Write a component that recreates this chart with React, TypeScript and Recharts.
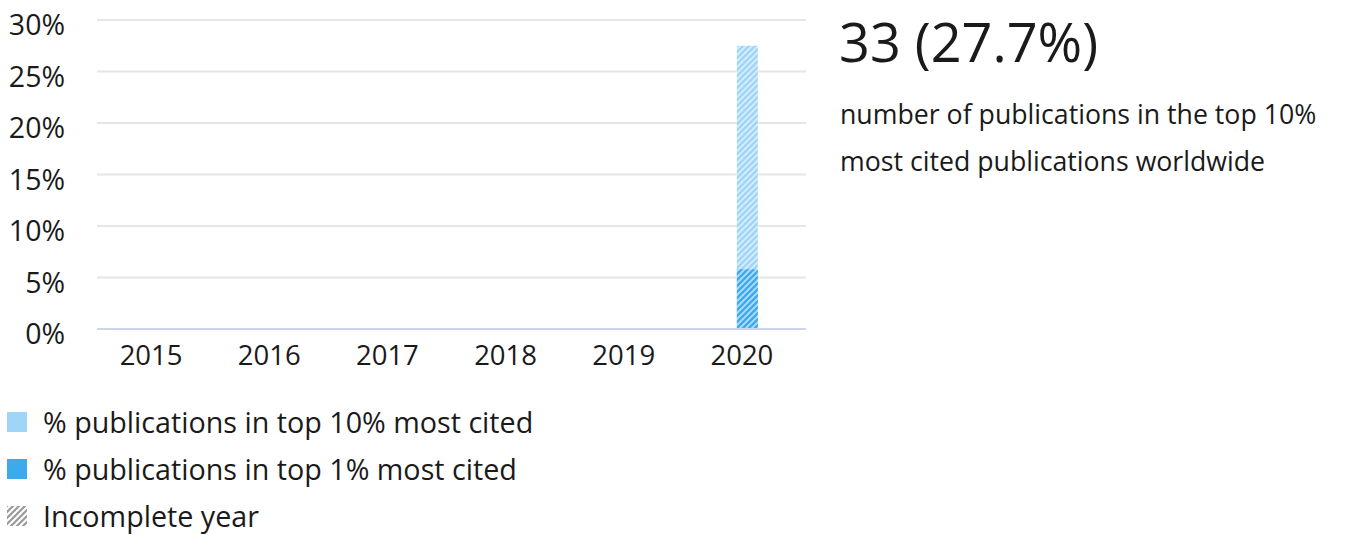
import React from 'react'
import { BarChart, Bar, XAxis, YAxis, CartesianGrid } from 'recharts'

const years = ['2015', '2016', '2017', '2018', '2019', '2020']
const top10 = [0, 0, 0, 0, 0, 27.5]
const top1 = [0, 0, 0, 0, 0, 5.8]
const yTicks = [0, 5, 10, 15, 20, 25, 30]

const chartData = years.map((year, i) => ({ year, top10: top10[i], top1: top1[i] }))

const FONT = '"Open Sans", "Noto Sans", sans-serif'
const LIGHT = '#9fd5f7'
const DARK = '#3eaaee'

document.body.style.margin = '0'

function Hatch({ id, color }: { id: string; color: string }) {
  return (
    <pattern id={id} patternUnits="userSpaceOnUse" width="6" height="6">
      <rect width="6" height="6" fill={color} />
      <path d="M0,6 L6,0 M-1.5,1.5 L1.5,-1.5 M4.5,7.5 L7.5,4.5" stroke="#fff" strokeWidth="1.8" strokeOpacity="0.6" />
    </pattern>
  )
}

export default function App() {
  return (
    <div style={{ position: 'relative', width: 1359, height: 535, fontFamily: FONT, color: '#1a1a1a', overflow: 'hidden' }}>
      <svg width="0" height="0" style={{ position: 'absolute' }}>
        <defs>
          <Hatch id="hatchLight" color={LIGHT} />
          <Hatch id="hatchDark" color={DARK} />
          <pattern id="hatchGray" patternUnits="userSpaceOnUse" width="6" height="6">
            <rect width="6" height="6" fill="#fff" />
            <path d="M0,6 L6,0 M-1.5,1.5 L1.5,-1.5 M4.5,7.5 L7.5,4.5" stroke="#9a9a9a" strokeWidth="2.2" />
          </pattern>
        </defs>
      </svg>

      <div style={{ position: 'absolute', left: 0, top: 0 }}>
        <BarChart width={820} height={380} data={chartData} margin={{ top: 20, right: 14, bottom: 0, left: 0 }} barGap={-21} barSize={21}>
          <CartesianGrid vertical={false} stroke="#e6e6e6" strokeWidth={2} />
          <XAxis
            dataKey="year"
            height={51}
            axisLine={{ stroke: '#ccd6eb', strokeWidth: 2 }}
            tickLine={false}
            tickSize={0}
            tickMargin={16}
            tick={{ fontSize: 27.5, fill: '#1a1a1a', fontFamily: FONT, dx: -5 }}
          />
          <YAxis
            width={97}
            domain={[0, 30]}
            ticks={yTicks}
            interval={0}
            axisLine={false}
            tickLine={false}
            tickSize={0}
            tickMargin={32}
            tickFormatter={(v) => `${v}%`}
            tick={{ fontSize: 28.5, fill: '#1a1a1a', fontFamily: FONT, dy: 5 }}
          />
          <Bar dataKey="top10" fill="url(#hatchLight)" isAnimationActive={false} />
          <Bar dataKey="top1" fill="url(#hatchDark)" isAnimationActive={false} />
        </BarChart>
      </div>

      <div style={{ position: 'absolute', left: 839, top: 4, fontSize: 54, lineHeight: '74px' }}>33 (27.7%)</div>
      <div style={{ position: 'absolute', left: 840, top: 90, fontSize: 26.7, lineHeight: '47px' }}>
        number of publications in the top 10%
        <br />
        most cited publications worldwide
      </div>

      <div style={{ position: 'absolute', left: 7, top: 398, fontSize: 28.7 }}>
        {[
          { label: '% publications in top 10% most cited', fill: LIGHT },
          { label: '% publications in top 1% most cited', fill: DARK },
          { label: 'Incomplete year', fill: 'url(#hatchGray)' },
        ].map((item) => (
          <div key={item.label} style={{ display: 'flex', alignItems: 'center', height: 47 }}>
            <svg width={20} height={20} style={{ marginRight: 16 }}>
              <rect width={20} height={20} fill={item.fill} />
            </svg>
            <span>{item.label}</span>
          </div>
        ))}
      </div>
    </div>
  )
}
